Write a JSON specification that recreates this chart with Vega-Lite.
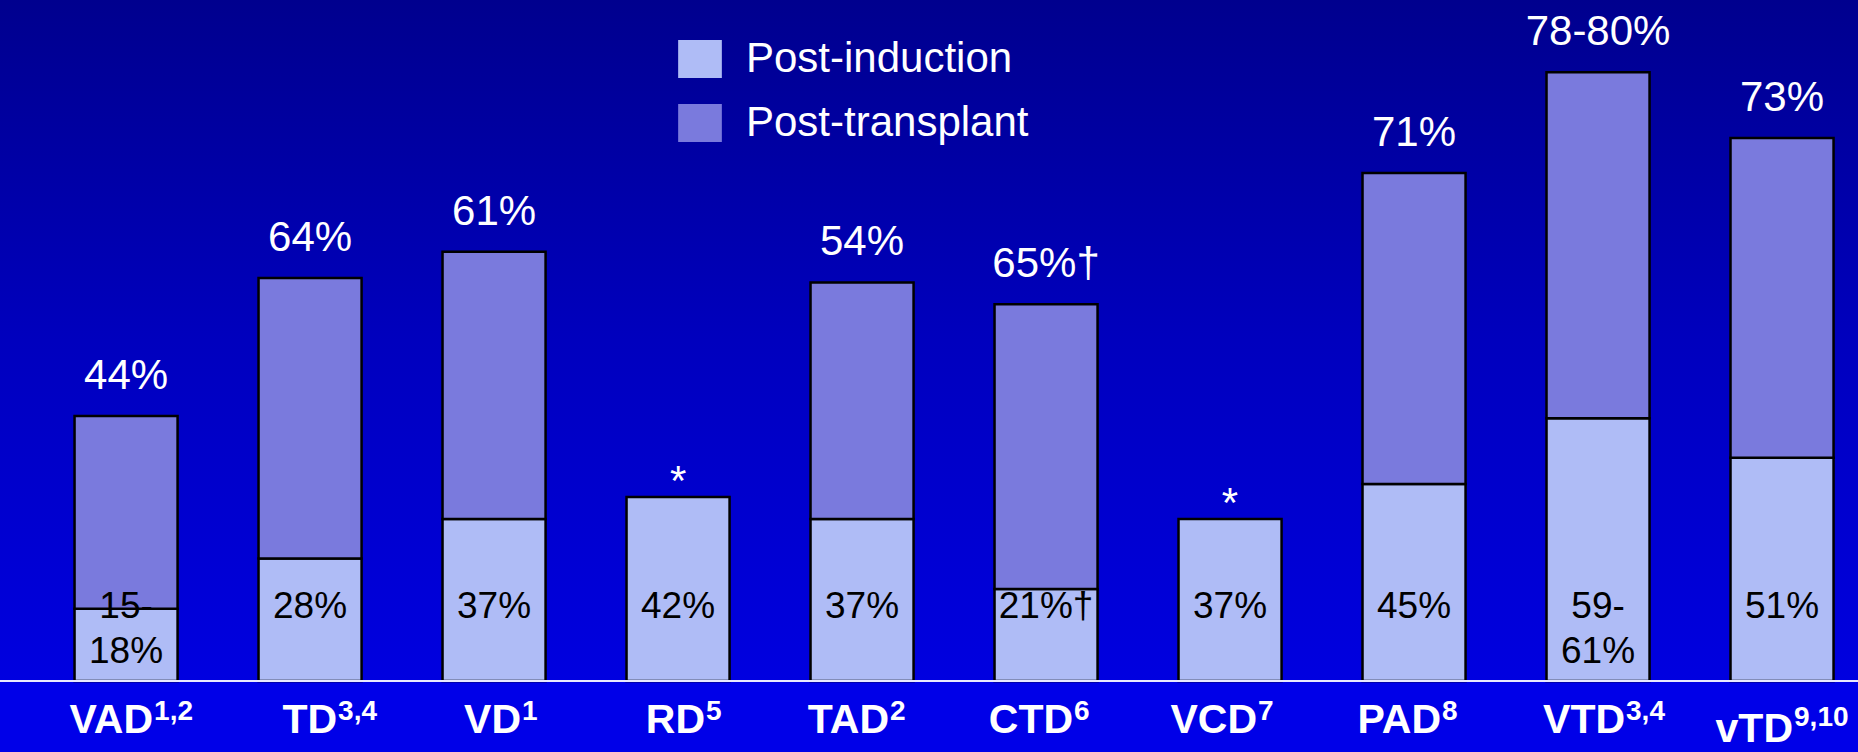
{
  "$schema": "https://vega.github.io/schema/vega-lite/v6.json",
  "width": 1858,
  "height": 681,
  "autosize": {"type": "none"},
  "padding": {"left": 0, "top": 0, "right": 0, "bottom": 71},
  "background": "#0000E8",
  "view": {
    "stroke": null,
    "fill": {
      "gradient": "linear",
      "x1": 0, "y1": 0, "x2": 0, "y2": 1,
      "stops": [
        {"offset": 0, "color": "#00008E"},
        {"offset": 0.5, "color": "#0000BE"},
        {"offset": 1, "color": "#0000E0"}
      ]
    }
  },
  "config": {
    "font": "Liberation Sans",
    "text": {"font": "Liberation Sans"}
  },
  "datasets": {
    "rates": [
      {"regimen": "VAD", "phase": "Post-induction", "rate": 16.5, "label": "15-\n18%", "sup": "1,2"},
      {"regimen": "VAD", "phase": "Post-transplant", "rate": 44, "label": "44%"},
      {"regimen": "TD", "phase": "Post-induction", "rate": 28, "label": "28%", "sup": "3,4"},
      {"regimen": "TD", "phase": "Post-transplant", "rate": 64, "label": "64%"},
      {"regimen": "VD", "phase": "Post-induction", "rate": 37, "label": "37%", "sup": "1"},
      {"regimen": "VD", "phase": "Post-transplant", "rate": 61, "label": "61%"},
      {"regimen": "RD", "phase": "Post-induction", "rate": 42, "label": "42%", "sup": "5", "note": "*"},
      {"regimen": "TAD", "phase": "Post-induction", "rate": 37, "label": "37%", "sup": "2"},
      {"regimen": "TAD", "phase": "Post-transplant", "rate": 54, "label": "54%"},
      {"regimen": "CTD", "phase": "Post-induction", "rate": 21, "label": "21%†", "sup": "6"},
      {"regimen": "CTD", "phase": "Post-transplant", "rate": 65, "label": "65%†"},
      {"regimen": "VCD", "phase": "Post-induction", "rate": 37, "label": "37%", "sup": "7", "note": "*"},
      {"regimen": "PAD", "phase": "Post-induction", "rate": 45, "label": "45%", "sup": "8"},
      {"regimen": "PAD", "phase": "Post-transplant", "rate": 71, "label": "71%"},
      {"regimen": "VTD", "phase": "Post-induction", "rate": 60, "label": "59-\n61%", "sup": "3,4"},
      {"regimen": "VTD", "phase": "Post-transplant", "rate": 79, "label": "78-80%"},
      {"regimen": "vTD", "phase": "Post-induction", "rate": 51, "label": "51%", "sup": "9,10"},
      {"regimen": "vTD", "phase": "Post-transplant", "rate": 73, "label": "73%"}
    ]
  },
  "layer": [
    {
      "data": {"name": "rates"},
      "transform": [
        {"stack": "rate", "groupby": ["regimen"], "sort": [{"field": "phase", "order": "ascending"}], "as": ["y0", "y1"]}
      ],
      "layer": [
        {
          "mark": {"type": "bar", "stroke": "#000000", "strokeWidth": 2.5, "opacity": 1},
          "encoding": {
            "x": {
              "field": "regimen", "type": "nominal", "axis": null,
              "scale": {
                "domain": ["VAD", "TD", "VD", "RD", "TAD", "CTD", "VCD", "PAD", "VTD", "vTD"],
                "paddingInner": 0.44, "paddingOuter": 0.269, "align": 0.753
              }
            },
            "y": {"field": "y1", "type": "quantitative", "axis": null, "scale": {"domain": [0, 155.5], "nice": false}},
            "y2": {"field": "y0"},
            "color": {
              "field": "phase", "type": "nominal",
              "scale": {"domain": ["Post-induction", "Post-transplant"], "range": ["#AFBCF6", "#7A7ADD"]},
              "legend": {
                "title": null,
                "orient": "none",
                "legendX": 679,
                "legendY": 38,
                "padding": 0,
                "symbolType": "M-1.15,-1H1.15V1H-1.15Z",
                "symbolSize": 1444,
                "symbolStrokeWidth": 0,
                "symbolOpacity": 1,
                "labelFont": "Liberation Sans",
                "labelFontSize": 42,
                "labelColor": "#FFFFFF",
                "labelOffset": 25,
                "labelLimit": 0,
                "rowPadding": 22
              }
            }
          }
        },
        {
          "transform": [{"filter": "datum.phase === 'Post-transplant'"}],
          "mark": {"type": "text", "fontSize": 42, "color": "#FFFFFF", "baseline": "alphabetic", "dy": -27},
          "encoding": {
            "x": {"field": "regimen", "type": "nominal", "axis": null},
            "y": {"field": "y1", "type": "quantitative", "axis": null},
            "text": {"field": "label"}
          }
        },
        {
          "transform": [{"filter": "isValid(datum.note)"}],
          "mark": {"type": "text", "fontSize": 42, "color": "#FFFFFF", "baseline": "alphabetic", "dy": -2},
          "encoding": {
            "x": {"field": "regimen", "type": "nominal", "axis": null},
            "y": {"field": "y1", "type": "quantitative", "axis": null},
            "text": {"field": "note"}
          }
        },
        {
          "transform": [{"filter": "datum.phase === 'Post-induction'"}],
          "mark": {"type": "text", "fontSize": 37, "color": "#000000", "baseline": "middle", "lineBreak": "\n", "lineHeight": 45},
          "encoding": {
            "x": {"field": "regimen", "type": "nominal", "axis": null},
            "y": {"datum": 16.8, "type": "quantitative", "axis": null},
            "text": {"field": "label"}
          }
        },
        {
          "transform": [{"filter": "datum.phase === 'Post-induction' && datum.regimen !== 'vTD'"}],
          "mark": {"type": "text", "fontSize": 41, "fontWeight": "bold", "color": "#FFFFFF", "align": "right", "baseline": "alphabetic", "dx": 27, "dy": 52},
          "encoding": {
            "x": {"field": "regimen", "type": "nominal", "axis": null},
            "y": {"datum": 0, "type": "quantitative", "axis": null},
            "text": {"field": "regimen"}
          }
        },
        {
          "transform": [{"filter": "datum.phase === 'Post-induction' && datum.regimen !== 'vTD'"}],
          "mark": {"type": "text", "fontSize": 28, "fontWeight": "bold", "color": "#FFFFFF", "align": "left", "baseline": "alphabetic", "dx": 28, "dy": 39},
          "encoding": {
            "x": {"field": "regimen", "type": "nominal", "axis": null},
            "y": {"datum": 0, "type": "quantitative", "axis": null},
            "text": {"field": "sup"}
          }
        },
        {
          "transform": [{"filter": "datum.phase === 'Post-induction' && datum.regimen === 'vTD'"}],
          "mark": {"type": "text", "fontSize": 41, "fontWeight": "bold", "color": "#FFFFFF", "align": "right", "baseline": "alphabetic", "dx": 11, "dy": 61},
          "encoding": {
            "x": {"field": "regimen", "type": "nominal", "axis": null},
            "y": {"datum": 0, "type": "quantitative", "axis": null},
            "text": {"field": "regimen"}
          }
        },
        {
          "transform": [{"filter": "datum.phase === 'Post-induction' && datum.regimen === 'vTD'"}],
          "mark": {"type": "text", "fontSize": 28, "fontWeight": "bold", "color": "#FFFFFF", "align": "left", "baseline": "alphabetic", "dx": 12, "dy": 45},
          "encoding": {
            "x": {"field": "regimen", "type": "nominal", "axis": null},
            "y": {"datum": 0, "type": "quantitative", "axis": null},
            "text": {"field": "sup"}
          }
        }
      ]
    },
    {
      "data": {"values": [{}]},
      "mark": {"type": "rule", "color": "#E8E8FF", "strokeWidth": 2},
      "encoding": {
        "y": {"datum": 0, "type": "quantitative", "axis": null}
      }
    }
  ]
}
